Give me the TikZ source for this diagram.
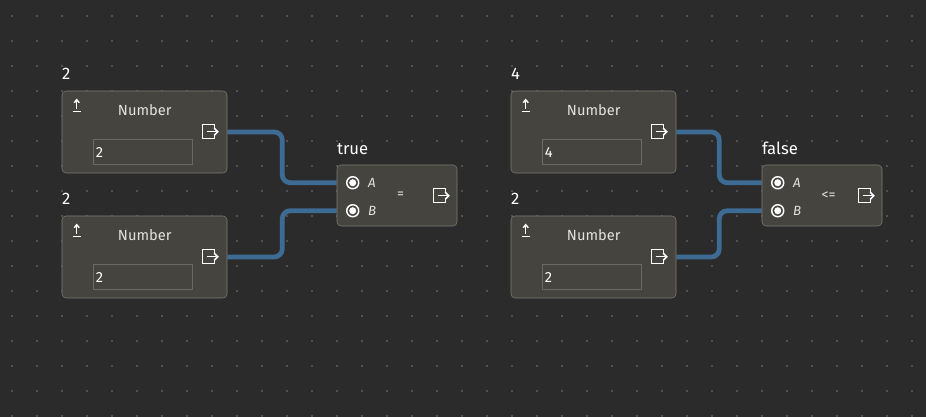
\documentclass[tikz,border=0pt]{standalone}
\usepackage{fontspec}
\setmainfont{Fira Sans}
\usepackage{tikz}
\usetikzlibrary{calc, backgrounds}
\definecolor{canvas}{RGB}{43,43,43}
\definecolor{gridDot}{RGB}{80,80,80}
\definecolor{nodeFill}{RGB}{70,68,63}
\definecolor{nodeBorder}{RGB}{125,123,117}
\definecolor{fieldBorder}{RGB}{108,106,100}
\definecolor{wireBlue}{RGB}{62,107,148}
\definecolor{textLight}{RGB}{226,226,224}
\tikzset{
    numbox/.style={draw=nodeBorder, fill=nodeFill, rounded corners=3pt, minimum width=123.75pt, minimum height=61.5pt, inner sep=0pt},
    cmpbox/.style={draw=nodeBorder, fill=nodeFill, rounded corners=3pt, minimum width=90pt, minimum height=45.75pt, inner sep=0pt},
    field/.style={draw=fieldBorder, fill=nodeFill, minimum width=74.25pt, minimum height=18.75pt, text width=71pt, inner sep=1.5pt, align=left, text=white, font=\fontsize{11}{13}\selectfont},
    title/.style={anchor=west, inner sep=0pt, text=white, font=\fontsize{12.5}{15}\selectfont},
    caption/.style={inner sep=0pt, text=textLight, font=\fontsize{11}{13}\selectfont},
    opsign/.style={inner sep=0pt, text=textLight, font=\fontsize{10.5}{12}\selectfont},
    port/.style={anchor=west, inner sep=0pt, text=textLight, font=\fontsize{10}{12}\selectfont\itshape},
    wire/.style={draw=wireBlue, line width=3.6pt, rounded corners=6pt},
    icon/.style={draw=white, line width=1.1pt},
    outicon/.pic={
        \draw[icon] (5,-3.5) -- (5,-7) -- (-7,-7) -- (-7,7) -- (5,7) -- (5,3.5);
        \draw[icon] (-3,0) -- (8,0);
        \draw[icon] (4.5,-3.5) -- (8,0) -- (4.5,3.5);
    },
    upicon/.pic={
        \draw[icon] (0,-6) -- (0,3);
        \draw[icon] (-2.5,-3) -- (0,-6) -- (2.5,-3);
        \draw[icon] (-4,6) -- (4,6);
    },
    radio/.pic={
        \draw[white, line width=1.1pt] (0,0) circle (6);
        \fill[white] (0,0) circle (3.5);
    }
}

\begin{document}
\begin{tikzpicture}[x=0.75pt, y=-0.75pt]
    \useasboundingbox (0,0) rectangle (926,417);

    % number inputs, left pair
    \node[numbox] (num1) at (144.5,132) {};
    \node[title] (lbl1) at ($(num1.north west)+(0,-17)$) {2};
    \pic at ($(num1.north west)+(15,15)$) {upicon};
    \node[caption] (cap1) at ($(num1.north west)+(83,19)$) {Number};
    \pic at ($(num1.north west)+(148,41)$) {outicon};
    \node[field] (val1) at ($(num1.north west)+(81.5,61.5)$) {2};

    \node[numbox] (num2) at (144.5,257) {};
    \node[title] (lbl2) at ($(num2.north west)+(0,-17)$) {2};
    \pic at ($(num2.north west)+(15,15)$) {upicon};
    \node[caption] (cap2) at ($(num2.north west)+(83,19)$) {Number};
    \pic at ($(num2.north west)+(148,41)$) {outicon};
    \node[field] (val2) at ($(num2.north west)+(81.5,61.5)$) {2};

    % equality node
    \node[cmpbox] (eq) at (397,195.5) {};
    \node[title] (eqres) at ($(eq.north west)+(0,-16)$) {true};
    \pic at ($(eq.north west)+(16,18)$) {radio};
    \pic at ($(eq.north west)+(16,46)$) {radio};
    \node[port] (eqa) at ($(eq.north west)+(31,18)$) {A};
    \node[port] (eqb) at ($(eq.north west)+(31,46)$) {B};
    \node[opsign] (eqop) at ($(eq.north west)+(64,31)$) {=};
    \pic at ($(eq.north west)+(104,31)$) {outicon};
    \coordinate (eq-a) at ($(eq.north west)+(0,18)$);
    \coordinate (eq-b) at ($(eq.north west)+(0,46)$);

    % number inputs, right pair
    \node[numbox] (num3) at (593.5,132) {};
    \node[title] (lbl3) at ($(num3.north west)+(0,-17)$) {4};
    \pic at ($(num3.north west)+(15,15)$) {upicon};
    \node[caption] (cap3) at ($(num3.north west)+(83,19)$) {Number};
    \pic at ($(num3.north west)+(148,41)$) {outicon};
    \node[field] (val3) at ($(num3.north west)+(81.5,61.5)$) {4};

    \node[numbox] (num4) at (593.5,257) {};
    \node[title] (lbl4) at ($(num4.north west)+(0,-17)$) {2};
    \pic at ($(num4.north west)+(15,15)$) {upicon};
    \node[caption] (cap4) at ($(num4.north west)+(83,19)$) {Number};
    \pic at ($(num4.north west)+(148,41)$) {outicon};
    \node[field] (val4) at ($(num4.north west)+(81.5,61.5)$) {2};

    % less-or-equal node
    \node[cmpbox] (le) at (822,195.5) {};
    \node[title] (leres) at ($(le.north west)+(0,-16)$) {false};
    \pic at ($(le.north west)+(16,18)$) {radio};
    \pic at ($(le.north west)+(16,46)$) {radio};
    \node[port] (lea) at ($(le.north west)+(31,18)$) {A};
    \node[port] (leb) at ($(le.north west)+(31,46)$) {B};
    \node[opsign] (leop) at ($(le.north west)+(67,31)$) {<=};
    \pic at ($(le.north west)+(104,31)$) {outicon};
    \coordinate (le-a) at ($(le.north west)+(0,18)$);
    \coordinate (le-b) at ($(le.north west)+(0,46)$);

    \begin{scope}[on background layer]
        \fill[canvas] (0,0) rectangle (926,417);
        \foreach \i in {0,...,36}
            \foreach \j in {0,...,16}
                \fill[gridDot] ({11+25*\i},{15+25*\j}) rectangle ++(2,2);
        \draw[wire] (num1.east) -- ++(55,0) |- (eq-a);
        \draw[wire] (num2.east) -- ++(55,0) |- (eq-b);
        \draw[wire] (num3.east) -- ++(43,0) |- (le-a);
        \draw[wire] (num4.east) -- ++(43,0) |- (le-b);
    \end{scope}
\end{tikzpicture}
\end{document}
